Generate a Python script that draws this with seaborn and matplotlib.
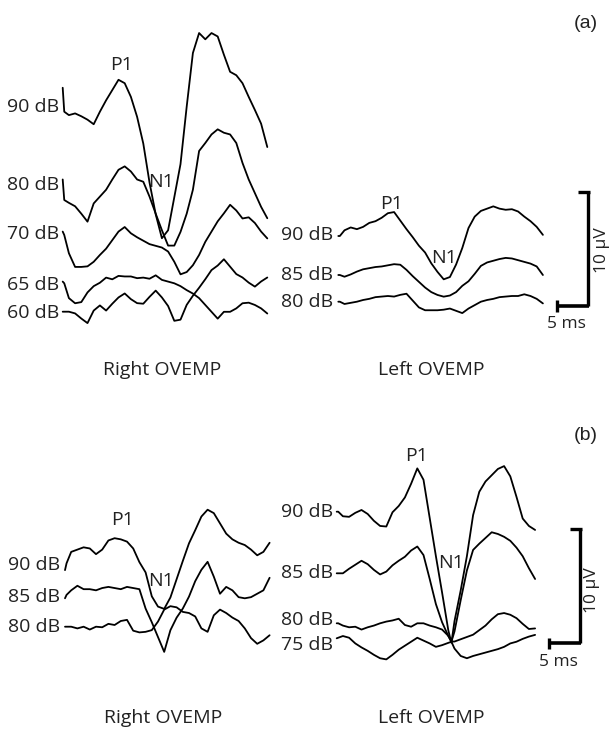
import numpy as np
import matplotlib
matplotlib.use("Agg")
import matplotlib.pyplot as plt
import seaborn as sns

# ---------------- data (amplitudes in microvolts, time in ms) ----------------
# time grids: first two samples carry the stimulus onset/artifact
t_a = [0, 0.25] + list(range(1, 34))                       # 0..33 ms
t_br = [0, 0.25] + list(range(1, 19)) + [18.5] + list(range(19, 33))  # 0..32 ms

# (a) Right OVEMP
a_right_levels = ["90 dB", "80 dB", "70 dB", "65 dB", "60 dB"]
a_right_90 = [2.1, 0, -0.3, -0.15, -0.4, -0.7, -1.1, 0.0, 1.0, 1.9, 2.8, 2.5, 1.3, -0.45, -2.8, -6.2, -9.0,
              -11.1, -10.4, -7.5, -4.6, 0.45, 5.15, 6.9, 6.35, 6.9, 6.6, 5.0, 3.5, 3.2, 2.5, 1.3, 0.15, -1.05, -3.1]
a_right_80 = [1.8, 0, -0.25, -0.55, -1.2, -1.9, -0.3, 0.3, 0.9, 1.8, 2.65, 2.95, 2.5, 1.8, 1.6, 0.3, -1.2,
              -2.65, -4.0, -4.0, -2.8, -1.2, 0.9, 4.3, 5.0, 5.75, 6.2, 5.9, 5.75, 5.0, 3.25, 1.8, 0.6, -0.6, -1.6]
a_right_70 = [0.3, 0, -1.6, -2.8, -2.8, -2.75, -2.35, -1.75, -1.2, -0.45, 0.3, 0.7, 0.15, -0.2, -0.5, -0.8, -0.95,
              -1.1, -1.45, -2.35, -3.45, -3.25, -2.65, -1.75, -0.6, 0.3, 1.2, 1.9, 2.65, 2.15, 1.45, 1.55, 1.05, 0.3, -0.3]
a_right_65 = [0.15, 0, -1.3, -1.75, -1.65, -0.8, -0.25, 0.05, 0.5, 0.35, 0.65, 0.6, 0.6, 0.45, 0.5, 0.4, 0.7,
              0.3, 0.15, 0, -0.25, -0.6, -0.9, -1.3, -1.9, -2.5, -3.1, -2.5, -2.5, -2.2, -1.75, -1.7, -1.9, -2.2, -2.65]
a_right_60 = [0, 0, 0, -0.15, -0.6, -1.0, 0.1, 0.55, 0.1, 0.7, 1.25, 1.6, 1.1, 0.75, 0.7, 1.3, 1.85,
              1.25, 0.5, -0.8, -0.7, 0.6, 1.4, 2.1, 2.85, 3.65, 4.05, 4.6, 3.95, 3.3, 3.0, 2.55, 2.2, 2.65, 3.0]

# (a) Left OVEMP
a_left_levels = ["90 dB", "85 dB", "80 dB"]
a_left_90 = [0, 0, 0.5, 0.75, 0.6, 0.8, 1.15, 1.3, 1.6, 2.0, 2.1, 1.35, 0.6, -0.1, -0.85, -1.45, -2.4,
             -3.15, -3.8, -3.6, -2.5, -1.05, 0.7, 1.7, 2.2, 2.4, 2.6, 2.4, 2.3, 2.35, 2.15, 1.7, 1.3, 0.8, 0.1]
a_left_85 = [0, 0, -0.15, 0.05, 0.3, 0.5, 0.6, 0.7, 0.75, 0.85, 0.95, 0.9, 0.45, -0.1, -0.6, -1.1, -1.5,
             -1.75, -1.9, -1.8, -1.5, -0.95, -0.55, 0.1, 0.8, 1.1, 1.25, 1.4, 1.5, 1.45, 1.3, 1.15, 1.0, 0.75, 0.0]
a_left_80 = [0, 0, -0.2, -0.1, 0, 0.15, 0.25, 0.4, 0.45, 0.5, 0.45, 0.6, 0.7, 0.1, -0.5, -0.75, -0.75,
             -0.75, -0.7, -0.6, -0.8, -1.0, -0.6, -0.3, 0, 0.15, 0.25, 0.4, 0.45, 0.5, 0.5, 0.65, 0.5, 0.25, -0.15]

# (b) Right OVEMP
b_right_levels = ["90 dB", "85 dB", "80 dB"]
b_right_90 = [-0.3, 0.3, 1.3, 1.5, 1.7, 1.6, 1.1, 1.5, 2.3, 2.5, 2.4, 2.2, 1.6, 0.4, -0.5, -2.6, -3.5,
              -3.7, -2.7, -1.1, 0.5, 2.05, 3.2, 4.4, 5.0, 4.7, 3.8, 2.9, 2.4, 2.1, 1.9, 1.5, 1.0, 1.3, 2.1]
b_right_85 = [0, 0.3, 0.7, 1.1, 0.8, 0.8, 0.7, 0.9, 1.0, 0.9, 0.8, 1.0, 0.9, 0.8, -0.9, -2.1, -3.4,
              -4.7, -2.8, -1.7, -0.9, 0.15, 1.5, 2.5, 3.2, 1.9, 0.4, 1.0, 0.7, 0.1, 0.0, 0.1, 0.4, 0.7, 1.8]
b_right_80 = [0, 0, 0, -0.15, 0, -0.25, 0, -0.05, 0.25, 0.15, 0.5, 0.6, -0.35, -0.5, -0.45, -0.3, 0.45,
              1.5, 1.8, 1.7, 1.3, 1.2, 0.9, -0.15, -0.45, 1.0, 1.5, 1.2, 0.8, 0.5, -0.15, -1.0, -1.5, -1.2, -0.75]

# (b) Left OVEMP
b_left_levels = ["90 dB", "85 dB", "80 dB", "75 dB"]
b_left_90 = [0, 0, -0.4, -0.45, -0.1, 0.15, -0.2, -0.8, -1.25, -1.3, -0.05, 0.5, 1.25, 2.45, 3.8, 2.8, -0.55,
             -3.9, -7.1, -10.4, -11.5, -9.6, -6.9, -3.9, -0.3, 1.75, 2.65, 3.2, 3.75, 4.0, 3.1, 1.3, -0.6, -1.25, -1.6]
b_left_85 = [0, 0, 0, 0.4, 0.75, 1.1, 0.8, 0.3, -0.1, 0.15, 0.7, 1.1, 1.45, 2.0, 2.35, 1.6, -0.5,
             -2.7, -4.3, -5.5, -6.0, -5.1, -2.35, 0.25, 2.05, 2.6, 3.1, 3.6, 3.45, 3.2, 2.85, 2.25, 1.5, 0.45, -0.5]
b_left_80 = [0, 0, -0.2, -0.35, -0.3, -0.55, -0.35, -0.2, 0, 0.15, 0.25, 0.4, -0.15, -0.3, 0, 0, -0.2,
             -0.35, -0.55, -1.1, -1.6, -1.6, -1.4, -1.2, -1.0, -0.6, -0.2, 0.35, 0.8, 0.9, 0.75, 0.45, -0.05, -0.5, -0.45]
b_left_75 = [0, 0.05, 0.2, 0.05, -0.45, -0.8, -1.1, -1.45, -1.75, -1.85, -1.45, -1.0, -0.65, -0.3, 0.05, -0.2, -0.45,
             -0.75, -0.6, -0.4, -0.3, -0.9, -1.55, -1.75, -1.55, -1.4, -1.25, -1.1, -0.95, -0.75, -0.45, -0.3, -0.05, 0.15, 0.3]

scale_uv = 10   # vertical calibration bar (µV)
scale_ms = 5    # horizontal calibration bar (ms)

# ---------------- layout ----------------
W, H = 611, 729
PX_MS = 6.2     # pixels per ms
PX_UV = 11.4    # pixels per µV


def X(px):
    return px / PX_MS


def Y(py):
    return (H - py) / PX_UV


sns.set_style("white")
plt.rcParams['font.family'] = ['Open Sans', 'DejaVu Sans']

fig = plt.figure(figsize=(W / 100, H / 100), dpi=100)
ax = fig.add_axes([0, 0, 1, 1])
ax.set_xlim(0, W / PX_MS)
ax.set_ylim(0, H / PX_UV)
ax.axis('off')

LW = 1.3
FS = 14

panels = [
    # (time grid, x start px, traces, levels, baseline py, label right px, label py)
    (t_a, 62.7, [a_right_90, a_right_80, a_right_70, a_right_65, a_right_60], a_right_levels,
     [111.7, 200, 235, 283.3, 311.7], 59.5, [107.3, 185, 234, 285, 312.5]),
    (t_a, 338.3, [a_left_90, a_left_85, a_left_80], a_left_levels,
     [236, 275, 301.7], 332.7, [235, 275, 302]),
    (t_a, 65, [b_right_90, b_right_85, b_right_80], b_right_levels,
     [566.7, 598.3, 626.7], 60, [565, 597.5, 626.7]),
    (t_br, 336.7, [b_left_90, b_left_85, b_left_80, b_left_75], b_left_levels,
     [511.7, 573.3, 623.3, 638.3], 333.3, [512, 573, 620, 645]),
]

for tgrid, x0, traces, levels, bases, lx, lys in panels:
    for vals, lev, b, ly in zip(traces, levels, bases, lys):
        xs = np.asarray(tgrid, float) + X(x0)
        ys = np.asarray(vals, float) + Y(b)
        sns.lineplot(x=xs, y=ys, ax=ax, color='black', linewidth=LW,
                     estimator=None, sort=False, legend=False)
        ax.text(X(lx), Y(ly), lev, ha='right', va='center', fontsize=FS, color='#222222')

# peak labels
for txt, px, py in [("P1", 121.7, 65), ("N1", 160.8, 181.7),
                    ("P1", 391, 204), ("N1", 444, 258),
                    ("P1", 122.5, 520), ("N1", 161, 580.5),
                    ("P1", 416.7, 456), ("N1", 451, 562.5)]:
    ax.text(X(px), Y(py), txt, ha='center', va='center', fontsize=FS, color='#222222')

# panel captions
for txt, px, py in [("Right OVEMP", 162.5, 370), ("Left OVEMP", 431, 370),
                    ("Right OVEMP", 163, 718), ("Left OVEMP", 431, 718)]:
    ax.text(X(px), Y(py), txt, ha='center', va='center', fontsize=FS, color='#222222')

for txt, px, py in [("(a)", 585.6, 23), ("(b)", 585.6, 435)]:
    ax.text(X(px), Y(py), txt, ha='center', va='center', fontsize=14,
            family=['Liberation Sans', 'DejaVu Sans'], color='#222222')

# calibration bars
for cx, cy, uvx, uvy, msx, msy in [(588.3, 306, 601.7, 250, 566.7, 324),
                                   (580, 643.3, 592, 590, 558.6, 662)]:
    x1 = X(cx)
    y1 = Y(cy)
    ax.plot([x1, x1], [y1, y1 + scale_uv], color='black', lw=2.4, solid_capstyle='butt')
    ax.plot([x1 - 1.6, x1 + 0.3], [y1 + scale_uv, y1 + scale_uv], color='black', lw=2.4, solid_capstyle='butt')
    ax.plot([x1 - scale_ms, x1 + 0.15], [y1, y1], color='black', lw=2.6, solid_capstyle='butt')
    ax.plot([x1 - scale_ms, x1 - scale_ms], [y1 - 0.5, y1 + 0.5], color='black', lw=2.4, solid_capstyle='butt')
    ax.text(X(uvx), Y(uvy), "10 µV", rotation=90, ha='center', va='center', fontsize=12.5, color='#222222')
    ax.text(X(msx), Y(msy), "5 ms", ha='center', va='center', fontsize=12.5, color='#222222')

fig.savefig("out.png", dpi=100)
